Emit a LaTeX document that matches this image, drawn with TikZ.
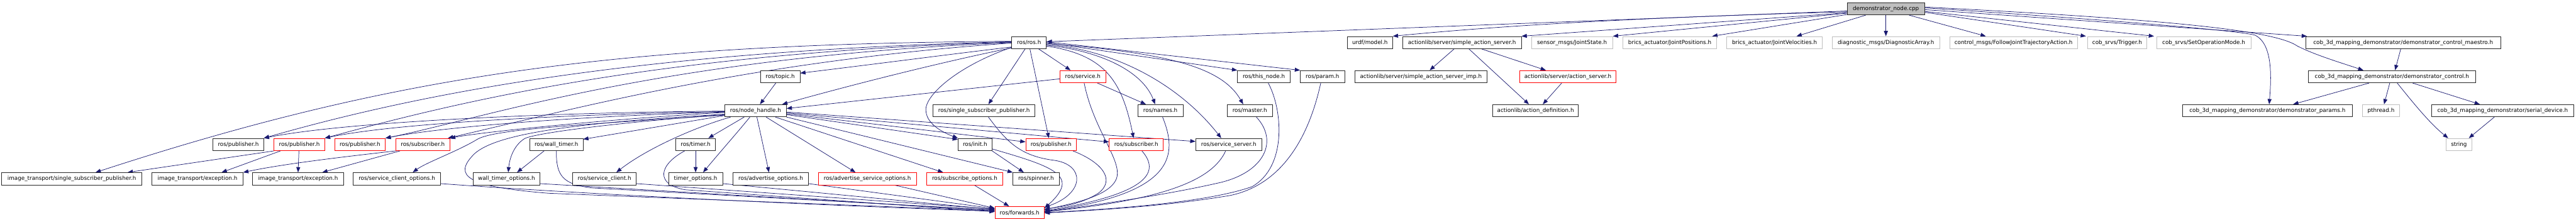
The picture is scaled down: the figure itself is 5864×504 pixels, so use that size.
\documentclass[tikz,border=0pt]{standalone}
\usepackage{fontspec}
\newfontfamily\dvs{DejaVu Sans}
\usetikzlibrary{arrows.meta}
\definecolor{edgeblue}{RGB}{25,25,112}
\definecolor{lightgr}{RGB}{191,191,191}
\definecolor{nodeblk}{RGB}{40,40,40}
\definecolor{nodered}{RGB}{255,0,0}
\pgfdeclarelayer{bg}
\pgfsetlayers{bg,main}
\tikzset{
  nd/.style={draw=nodeblk, line width=1.1pt, minimum height=28pt, inner sep=0pt, fill=white,
             font=\dvs\fontsize{12.6}{15}\selectfont},
  ndred/.style={nd, draw=nodered},
  ndgray/.style={nd, draw=lightgr},
  ndroot/.style={nd, fill=lightgr},
  edge/.style={draw=edgeblue, line width=1.05pt, -{Triangle[length=12pt,width=9pt]}},
}
\begin{document}
\begin{tikzpicture}[x=1pt,y=-1pt]
\useasboundingbox (0,0) rectangle (5864,504);
% row 0
\node[ndroot, minimum width=176pt] (dn) at (4293,20) {demonstrator\_node.cpp};
% row 1
\node[nd, minimum width=79pt] (ros) at (2342.5,97) {ros/ros.h};
\node[nd, minimum width=103pt] (urdf) at (3118.5,97) {urdf/model.h};
\node[nd, minimum width=270pt] (sas) at (3328,97) {actionlib/server/simple\_action\_server.h};
\node[ndgray, minimum width=185pt] (js) at (3578.5,97) {sensor\_msgs/JointState.h};
\node[ndgray, minimum width=214pt] (jp) at (3801,97) {brics\_actuator/JointPositions.h};
\node[ndgray, minimum width=217pt] (jv) at (4039.5,97) {brics\_actuator/JointVelocities.h};
\node[ndgray, minimum width=244pt] (diag) at (4293,97) {diagnostic\_msgs/DiagnosticArray.h};
\node[ndgray, minimum width=291pt] (fjt) at (4583.5,97) {control\_msgs/FollowJointTrajectoryAction.h};
\node[ndgray, minimum width=135pt] (trig) at (4819.5,97) {cob\_srvs/Trigger.h};
\node[ndgray, minimum width=215pt] (som) at (5016.5,97) {cob\_srvs/SetOperationMode.h};
\node[nd, minimum width=443pt] (maestro) at (5470.5,97) {cob\_3d\_mapping\_demonstrator/demonstrator\_control\_maestro.h};
% row 2
\node[nd, minimum width=90pt] (topic) at (1776,174.5) {ros/topic.h};
\node[ndred, minimum width=104pt] (service) at (2465,174.5) {ros/service.h};
\node[nd, minimum width=120pt] (thisnode) at (2877,174.5) {ros/this\_node.h};
\node[nd, minimum width=101pt] (param) at (3010.5,174.5) {ros/param.h};
\node[nd, minimum width=301pt] (sasimp) at (3234.5,174.5) {actionlib/server/simple\_action\_server\_imp.h};
\node[ndred, minimum width=220pt] (as) at (3569,174.5) {actionlib/server/action\_server.h};
\node[nd, minimum width=382pt] (control) at (5445,174.5) {cob\_3d\_mapping\_demonstrator/demonstrator\_control.h};
% row 3
\node[nd, minimum width=140pt] (nh) at (1720,252) {ros/node\_handle.h};
\node[nd, minimum width=232pt] (ssp) at (2240,252) {ros/single\_subscriber\_publisher.h};
\node[nd, minimum width=103pt] (names) at (2641.5,252) {ros/names.h};
\node[nd, minimum width=104pt] (master) at (2845,252) {ros/master.h};
\node[nd, minimum width=195pt] (ad) at (3495.5,252) {actionlib/action\_definition.h};
\node[nd, minimum width=387pt] (params) at (5161.5,252) {cob\_3d\_mapping\_demonstrator/demonstrator\_params.h};
\node[ndgray, minimum width=84pt] (pthread) at (5420,252) {pthread.h};
\node[nd, minimum width=324pt] (serial) at (5697,252) {cob\_3d\_mapping\_demonstrator/serial\_device.h};
% row 4
\node[nd, minimum width=115pt] (pubA) at (542.5,329) {ros/publisher.h};
\node[ndred, minimum width=115pt] (pubB) at (681.5,329) {ros/publisher.h};
\node[ndred, minimum width=115pt] (pubC) at (819.5,329) {ros/publisher.h};
\node[ndred, minimum width=123pt] (subA) at (962.5,329) {ros/subscriber.h};
\node[nd, minimum width=121pt] (wt) at (1266.5,329) {ros/wall\_timer.h};
\node[nd, minimum width=91pt] (timer) at (1583.5,329) {ros/timer.h};
\node[nd, minimum width=77pt] (init) at (2219.5,329) {ros/init.h};
\node[ndred, minimum width=115pt] (pubD) at (2392.5,329) {ros/publisher.h};
\node[ndred, minimum width=123pt] (subB) at (2586.5,329) {ros/subscriber.h};
\node[nd, minimum width=150pt] (ss) at (2797,329) {ros/service\_server.h};
\node[ndgray, minimum width=59pt] (string) at (5597.5,329) {string};
% row 5
\node[nd, minimum width=319pt] (itssp) at (163.5,407) {image\_transport/single\_subscriber\_publisher.h};
\node[nd, minimum width=207pt] (exA) at (449.5,407) {image\_transport/exception.h};
\node[nd, minimum width=207pt] (exB) at (678.5,407) {image\_transport/exception.h};
\node[nd, minimum width=199pt] (sco) at (903.5,407) {ros/service\_client\_options.h};
\node[nd, minimum width=152pt] (wto) at (1153,407) {wall\_timer\_options.h};
\node[nd, minimum width=144pt] (sc) at (1376,407) {ros/service\_client.h};
\node[nd, minimum width=123pt] (to) at (1583.5,407) {timer\_options.h};
\node[nd, minimum width=171pt] (ao) at (1754.5,407) {ros/advertise\_options.h};
\node[ndred, minimum width=223pt] (aso) at (1974.5,407) {ros/advertise\_service\_options.h};
\node[ndred, minimum width=174pt] (so) at (2196,407) {ros/subscribe\_options.h};
\node[nd, minimum width=105pt] (spin) at (2358.5,407) {ros/spinner.h};
% row 6
\node[ndred, minimum width=112pt] (fwd) at (2321,484) {ros/forwards.h};

\begin{pgfonlayer}{bg}
% demonstrator_node.cpp
\draw[edge] ([yshift=-5pt]dn.west) -- ([yshift=2pt]ros.east);
\draw[edge] ([yshift=-7pt]dn.west) .. controls (3900,35) and (3500,50) .. (urdf.north east);
\draw[edge] ([yshift=-9pt]dn.west) -- (sas.north east);
\draw[edge] ([yshift=-10pt]dn.west) -- (js.north east);
\draw[edge] ([yshift=-13pt]dn.west) -- ([xshift=-11pt]jp.north east);
\draw[edge] ([xshift=-46pt]dn.south) -- ([xshift=50pt]jv.north);
\draw[edge] (dn.south) -- (diag.north);
\draw[edge] ([xshift=53pt]dn.south) -- ([xshift=-63pt]fjt.north);
\draw[edge] ([yshift=-8pt]dn.east) -- ([xshift=-3pt]trig.north west);
\draw[edge] ([yshift=-6pt]dn.east) -- ([xshift=-5pt]som.north west);
\draw[edge] ([yshift=-2pt]dn.east) -- ([xshift=3pt]maestro.north west);
\draw[edge] ([yshift=4pt]dn.east) .. controls (4950,45) and (5180,70) .. (5230,105)
            .. controls (5270,125) and (5320,140) .. ([xshift=-65pt]control.north);
\draw[edge] ([yshift=2pt]dn.east) .. controls (4800,45) and (5100,70) .. (5133,80)
            .. controls (5175,100) and (5170,180) .. ([xshift=4pt]params.north);
% actionlib
\draw[edge] ([xshift=-18pt]sas.south) -- ([xshift=20pt]sasimp.north);
\draw[edge] ([xshift=16pt]sas.south) -- ([xshift=-15pt]ad.north);
\draw[edge] ([xshift=45pt]sas.south) -- ([xshift=-50pt]as.north);
\draw[edge] ([xshift=-14pt]as.south) -- ([xshift=16.5pt]ad.north);
% demonstrator cluster
\draw[edge] ([xshift=-5.5pt]maestro.south) -- ([xshift=7pt]control.north);
\draw[edge] ([xshift=-52pt]control.south) -- ([xshift=58.5pt]params.north);
\draw[edge] ([xshift=-5pt]control.south) -- ([xshift=7pt]pthread.north);
\draw[edge] ([xshift=12pt]control.south) .. controls (5490,230) and (5530,280) .. ([xshift=-24.5pt]string.north);
\draw[edge] ([xshift=47pt]control.south) -- ([xshift=-52pt]serial.north);
\draw[edge] ([xshift=-19pt]serial.south) -- ([xshift=22.5pt]string.north);
% ros/ros.h
\draw[edge] ([yshift=-10pt]ros.west) .. controls (2150,125) and (2000,145) .. ([yshift=8pt]topic.east);
\draw[edge] ([yshift=-12pt]ros.west) .. controls (2150,140) and (1950,190) .. ([xshift=-10pt]nh.north east);
\draw[edge] ([xshift=-9pt]ros.south) -- ([xshift=10pt]ssp.north);
\draw[edge] ([xshift=2pt]ros.south) -- ([xshift=-5pt]pubD.north);
\draw[edge] ([xshift=22pt]ros.south) -- ([xshift=-28pt]service.north);
\draw[edge] ([yshift=-11pt]ros.west) .. controls (2180,150) and (2100,220) .. (2108,255)
            .. controls (2112,285) and (2150,303) .. (init.north west);
\draw[edge] ([yshift=-8pt]ros.east) .. controls (2520,125) and (2555,190) .. ([xshift=-6pt]subB.north);
\draw[edge] ([yshift=-6pt]ros.east) .. controls (2500,115) and (2600,160) .. ([xshift=-12pt]names.north);
\draw[edge] ([yshift=-4pt]ros.east) .. controls (2550,115) and (2690,200) .. ([xshift=-17pt]ss.north);
\draw[edge] ([yshift=-2pt]ros.east) .. controls (2650,120) and (2780,150) .. ([xshift=-15pt]master.north);
\draw[edge] ([yshift=0pt]ros.east) -- (thisnode.north west);
\draw[edge] ([yshift=2pt]ros.east) -- (param.north west);
\draw[edge] ([yshift=3pt]ros.west) .. controls (1400,100) and (900,170) .. ([xshift=54pt]itssp.north);
\draw[edge] ([yshift=2pt]ros.west) .. controls (1500,115) and (1000,200) .. (pubA.north east);
\draw[edge] ([yshift=1pt]ros.west) .. controls (1500,120) and (1050,230) .. (pubB.north east);
\draw[edge] (ros.west) .. controls (1500,130) and (1100,270) .. (pubC.north east);
\draw[edge] ([yshift=-1pt]ros.west) .. controls (1700,140) and (1300,250) .. ([xshift=-5pt]subA.north east);
% ros/service.h
\draw[edge] ([yshift=-5pt]service.west) -- ([yshift=5pt]nh.east);
\draw[edge] ([xshift=33pt]service.south) -- ([xshift=-33pt]names.north);
\draw[edge] ([xshift=3pt]service.south) .. controls (2490,300) and (2560,370) .. (2540,410)
            .. controls (2520,450) and (2430,465) .. ([yshift=6pt]fwd.east);
% ros/topic.h
\draw[edge] ([xshift=-10pt]topic.south) -- ([xshift=10pt]nh.north);
% ros/node_handle.h
\draw[edge] ([xshift=-26pt]nh.south) -- ([xshift=29pt]timer.north);
\draw[edge] ([xshift=-13pt]nh.south) .. controls (1680,300) and (1640,345) .. ([xshift=17pt]to.north);
\draw[edge] ([xshift=3pt]nh.south) -- ([xshift=-4pt]ao.north);
\draw[edge] ([xshift=24pt]nh.south) -- ([xshift=-27pt]aso.north);
\draw[edge] ([xshift=45pt]nh.south) -- ([xshift=-49pt]so.north);
\draw[edge] (nh.south east) -- (spin.north west);
\draw[edge] ([yshift=-9pt]nh.east) -- ([yshift=-3pt]init.north west);
\draw[edge] ([yshift=-7pt]nh.east) -- ([yshift=6pt]pubD.west);
\draw[edge] ([yshift=-5pt]nh.east) -- ([yshift=6pt]subB.west);
\draw[edge] ([yshift=-3pt]nh.east) -- ([yshift=7pt]ss.west);
\draw[edge] ([yshift=-11pt]nh.west) -- ([yshift=12pt]wt.east);
\draw[edge] ([yshift=-9pt]nh.west) .. controls (1450,275) and (1230,300) .. (1195,315)
            .. controls (1170,330) and (1160,360) .. ([xshift=4pt]wto.north);
\draw[edge] ([xshift=-57pt]nh.south) .. controls (1580,290) and (1470,340) .. ([xshift=27pt]sc.north);
\draw[edge] ([yshift=-10pt]nh.west) .. controls (1300,285) and (1120,295) .. (1085,318)
            .. controls (1040,345) and (970,370) .. ([xshift=36pt]sco.north);
\draw[edge] ([yshift=-1pt]nh.west) .. controls (1300,255) and (800,275) .. (pubA.north east);
\draw[edge] ([yshift=-2pt]nh.west) .. controls (1300,260) and (900,280) .. (pubB.north east);
\draw[edge] ([yshift=-3pt]nh.west) .. controls (1300,265) and (1000,290) .. (pubC.north east);
\draw[edge] ([yshift=-4pt]nh.west) .. controls (1400,270) and (1100,300) .. (subA.north east);
\draw[edge] ([yshift=-8pt]nh.west) .. controls (1300,280) and (1130,305) .. (1080,350)
            .. controls (1030,400) and (1060,425) .. (1250,440) -- ([yshift=4pt]fwd.west);
% publishers / subscribers (image_transport)
\draw[edge] (pubB.south west) -- ([xshift=127pt]itssp.north);
\draw[edge] ([xshift=-43pt]pubB.south) -- ([xshift=55pt]exA.north);
\draw[edge] ([xshift=-1pt]pubB.south) -- ([xshift=0pt]exB.north);
\draw[edge] (subA.south west) .. controls (800,355) and (650,372) .. (exA.north east);
\draw[edge] ([xshift=-52pt]subA.south) -- ([xshift=55pt]exB.north);
% timers
\draw[edge] (timer.south) -- (to.north);
\draw[edge] ([xshift=-28pt]wt.south) -- ([xshift=24pt]wto.north);
\draw[edge] ([xshift=-25pt]timer.south) .. controls (1500,375) and (1490,420) .. (1560,432) -- ([yshift=2pt]fwd.west);
\draw[edge] (wt.south) .. controls (1266,400) and (1280,420) .. (1350,428) -- ([yshift=6pt]fwd.west);
\draw[edge] (init.south east) -- ([xshift=-28pt]spin.north);
% into ros/forwards.h from the left
\draw[edge] ([yshift=-11pt]sc.east) -- ([yshift=8pt]fwd.west);
\draw[edge] ([yshift=-11pt]sco.east) .. controls (1300,440) and (1800,465) .. ([yshift=3pt]fwd.west);
\draw[edge] ([yshift=-11pt]wto.east) -- ([yshift=5pt]fwd.west);
\draw[edge] ([yshift=-11pt]to.east) -- ([yshift=7pt]fwd.west);
\draw[edge] ([yshift=-11pt]ao.east) -- ([yshift=9pt]fwd.west);
\draw[edge] ([xshift=62pt]aso.south) -- ([yshift=10pt]fwd.west);
\draw[edge] ([xshift=22pt]so.south) -- ([xshift=-24pt]fwd.north);
% into ros/forwards.h from the right
\draw[edge] ([xshift=10pt]ssp.south) .. controls (2290,320) and (2320,355) .. (2400,365)
            .. controls (2470,375) and (2470,440) .. ([yshift=12pt]fwd.east);
\draw[edge] ([yshift=-10pt]init.east) .. controls (2400,380) and (2460,400) .. ([yshift=10pt]fwd.east);
\draw[edge] ([xshift=50pt]pubD.south) .. controls (2510,370) and (2540,410) .. (2500,440)
            .. controls (2460,465) and (2420,470) .. ([yshift=8pt]fwd.east);
\draw[edge] ([xshift=13pt]subB.south) .. controls (2640,390) and (2620,440) .. ([yshift=4pt]fwd.east);
\draw[edge] ([xshift=5pt]names.south) .. controls (2680,350) and (2680,440) .. ([yshift=3pt]fwd.east);
\draw[edge] ([xshift=-7pt]ss.south) .. controls (2760,410) and (2650,455) .. ([yshift=2pt]fwd.east);
\draw[edge] ([xshift=15pt]master.south) .. controls (2910,320) and (2880,390) .. (2780,415)
            .. controls (2650,445) and (2500,465) .. ([yshift=1pt]fwd.east);
\draw[edge] ([xshift=10pt]thisnode.south) .. controls (2920,250) and (2930,380) .. (2850,425)
            .. controls (2750,460) and (2550,475) .. (fwd.east);
\draw[edge] ([xshift=-4pt]param.south) .. controls (2980,310) and (2920,420) .. (2800,445)
            .. controls (2650,470) and (2500,478) .. ([yshift=-1pt]fwd.east);
\end{pgfonlayer}
\end{tikzpicture}
\end{document}
